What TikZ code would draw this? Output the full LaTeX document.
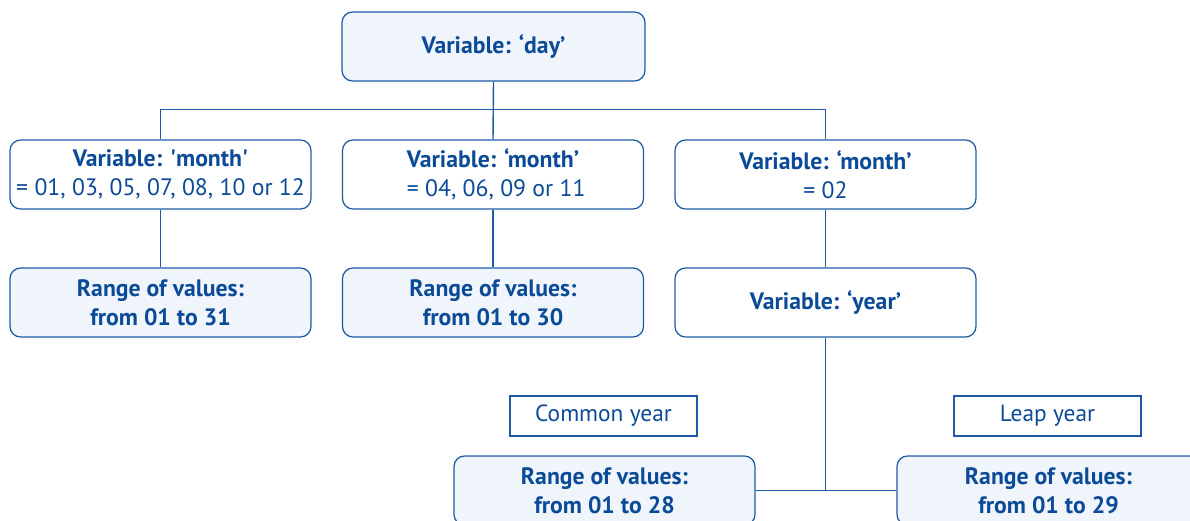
\documentclass[tikz,border=0pt]{standalone}
\usepackage{fontspec}
\setmainfont{PT Sans}
\usetikzlibrary{calc}
\definecolor{ecblue}{HTML}{0B4A96}
\definecolor{ecline}{HTML}{1D5AA6}
\definecolor{ecfill}{HTML}{F0F5FC}
\tikzset{>=latex,
    varbox/.style = {draw = ecline, line width = 0.7pt, rounded corners = 6pt, minimum width = 6.02cm, minimum height = 1.38cm, align = center, text = ecblue, inner sep = 1pt, font = \fontsize{13.5}{16.5}\selectfont},
    rangebox/.style = {varbox, fill = ecfill, font = \fontsize{13.5}{16.5}\selectfont\bfseries},
    tagbox/.style = {draw = ecline, line width = 0.7pt, minimum width = 3.74cm, minimum height = 0.8cm, text = ecblue, font = \fontsize{13.3}{14}\selectfont},
    link/.style = {draw = ecline, line width = 0.8pt}
}

\begin{document}
\begin{tikzpicture}[scale = 1]

    \clip (0,0) rectangle (23.8,-10.42);
    \useasboundingbox (0,0) rectangle (23.8,-10.42);

    \node[rangebox, minimum width = 6.06cm] (day) at (9.87,-0.93) {Variable: ‘day’};

    \node[varbox] (m1) at (3.21,-3.49) {\textbf{Variable: \textquotesingle month\textquotesingle}\\= 01, 03, 05, 07, 08, 10 or 12};
    \node[varbox] (m2) at (9.86,-3.49) {\textbf{Variable: ‘month’}\\ \ = 04, 06, 09 or 11};
    \node[varbox] (m3) at (16.51,-3.49) {\textbf{Variable: ‘month’}\\= 02};

    \node[rangebox] (r1) at (3.21,-6.05) {Range of values:\\from 01 to 31};
    \node[rangebox] (r2) at (9.86,-6.05) {Range of values:\\from 01 to 30};
    \node[varbox, font = \fontsize{13.5}{16.5}\selectfont\bfseries] (yr) at (16.51,-6.05) {Variable: ‘year’};

    \node[tagbox] (common) at (12.07,-8.32) {Common year};
    \node[tagbox] (leap) at (20.95,-8.32) {Leap year};

    \node[rangebox] (r28) at (12.09,-9.81) {Range of values:\\from 01 to 28};
    \node[rangebox, minimum width = 6.06cm] (r29) at (20.97,-9.81) {Range of values:\\from 01 to 29};

    % tree
    \draw[link] (day.south) -- (m2.north);
    \draw[link] (m1.north) -- ++(0,0.6) -| (m3.north);
    \draw[link] (m1) -- (r1);
    \draw[link] (m2) -- (r2);
    \draw[link] (m3) -- (yr);
    \draw[link] (yr.south) -- (yr.south |- r28.east);
    \draw[link] (r28) -- (r29);

\end{tikzpicture}
\end{document}
